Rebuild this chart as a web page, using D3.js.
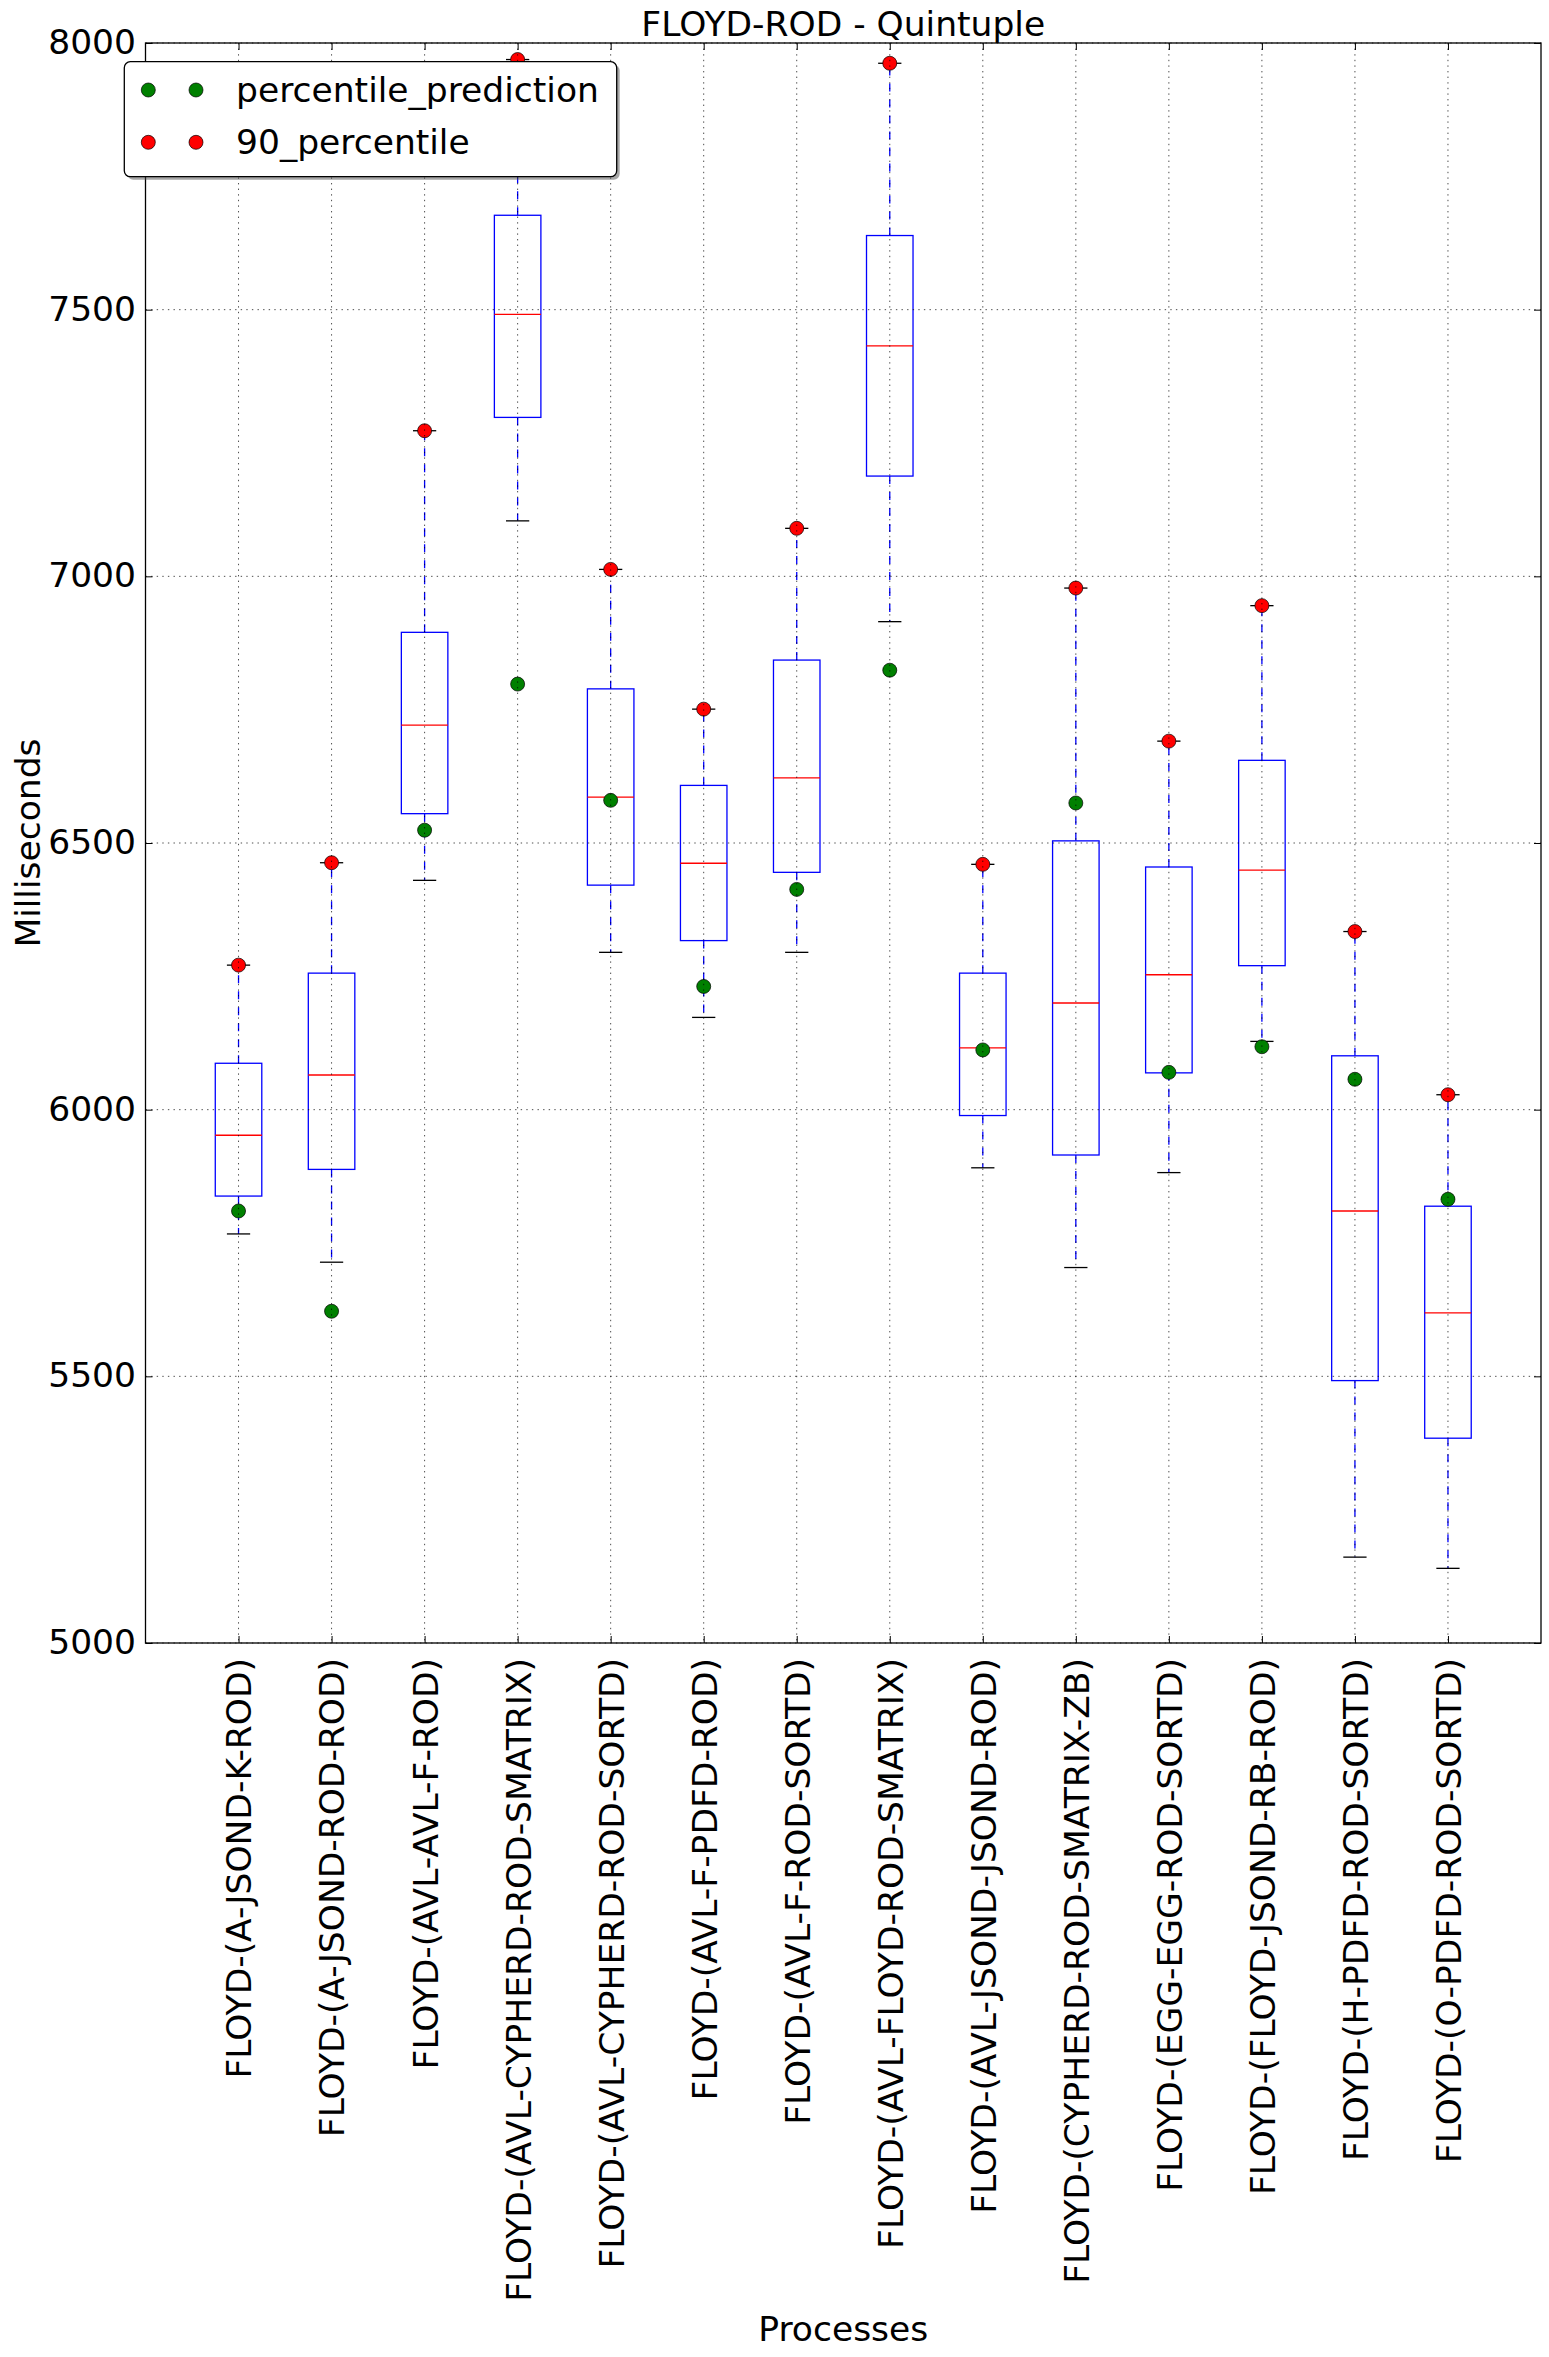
<!DOCTYPE html>
<html>
<head>
<meta charset="utf-8">
<script src="https://cdn.jsdelivr.net/npm/d3@7"></script>
<style>
  html, body { margin: 0; padding: 0; background: #ffffff; }
  svg { display: block; }
  text { font-family: "DejaVu Sans", sans-serif; }
</style>
</head>
<body>
<svg id="chart" width="1549" height="2357"></svg>
<script>
// ---------------- DATA ----------------
const categories = [
  "FLOYD-(A-JSOND-K-ROD)",
  "FLOYD-(A-JSOND-ROD-ROD)",
  "FLOYD-(AVL-AVL-F-ROD)",
  "FLOYD-(AVL-CYPHERD-ROD-SMATRIX)",
  "FLOYD-(AVL-CYPHERD-ROD-SORTD)",
  "FLOYD-(AVL-F-PDFD-ROD)",
  "FLOYD-(AVL-F-ROD-SORTD)",
  "FLOYD-(AVL-FLOYD-ROD-SMATRIX)",
  "FLOYD-(AVL-JSOND-JSOND-ROD)",
  "FLOYD-(CYPHERD-ROD-SMATRIX-ZB)",
  "FLOYD-(EGG-EGG-ROD-SORTD)",
  "FLOYD-(FLOYD-JSOND-RB-ROD)",
  "FLOYD-(H-PDFD-ROD-SORTD)",
  "FLOYD-(O-PDFD-ROD-SORTD)"
];
const whiskerLow  = [5767, 5714, 6430, 7104, 6295, 6173, 6295, 6915, 5891, 5704, 5882, 6128, 5161, 5140];
const q1          = [5838, 5888, 6555, 7298, 6421, 6317, 6445, 7188, 5989, 5915, 6069, 6270, 5492, 5384];
const median      = [5952, 6065, 6721, 7491, 6586, 6462, 6622, 7432, 6116, 6200, 6253, 6449, 5810, 5619];
const q3          = [6087, 6256, 6895, 7677, 6789, 6608, 6843, 7639, 6256, 6504, 6455, 6655, 6101, 5819];
const whiskerHigh = [6271, 6463, 7273, 7969, 7013, 6751, 7090, 7962, 6460, 6978, 6691, 6945, 6334, 6028];
const percentilePrediction = [5810, 5622, 6524, 6798, 6580, 6231, 6413, 6824, 6112, 6575, 6070, 6118, 6057, 5832];
const percentile90         = [6271, 6463, 7273, 7969, 7013, 6751, 7090, 7962, 6460, 6978, 6691, 6945, 6334, 6028];
const yTicks = [5000, 5500, 6000, 6500, 7000, 7500, 8000];
const legendLabels = ["percentile_prediction", "90_percentile"];
const legendColors = ["#008000", "#ff0000"];
const titleText = "FLOYD-ROD - Quintuple";
const xLabel = "Processes";
const yLabel = "Milliseconds";

// ---------------- LAYOUT ----------------
const W = 1549, H = 2357;
const pLeft = 145.5, pRight = 1541, pTop = 43, pBottom = 1643;
const FS = 34.5;
const positions = categories.map((d, i) => i + 1);

const svg = d3.select("#chart");
svg.append("rect").attr("width", W).attr("height", H).attr("fill", "#ffffff");

const x = d3.scaleLinear().domain([0, categories.length + 1]).range([pLeft, pRight]);
const y = d3.scaleLinear().domain([5000, 8000]).range([pBottom, pTop]);

const boxHalf = 0.25;   // box width 0.5 units
const capHalf = 0.125;  // cap width 0.25 units
const lw = 1.3;

const rows = categories.map((c, i) => ({
  pos: positions[i], lo: whiskerLow[i], q1: q1[i], med: median[i], q3: q3[i], hi: whiskerHigh[i],
  pred: percentilePrediction[i], p90: percentile90[i]
}));

const plot = svg.append("g");

// whiskers
plot.selectAll(".wlo").data(rows).join("line")
  .attr("x1", d => x(d.pos)).attr("x2", d => x(d.pos))
  .attr("y1", d => y(d.q1)).attr("y2", d => y(d.lo))
  .attr("stroke", "#0000ff").attr("stroke-width", lw).attr("stroke-dasharray", "8,8");
plot.selectAll(".whi").data(rows).join("line")
  .attr("x1", d => x(d.pos)).attr("x2", d => x(d.pos))
  .attr("y1", d => y(d.q3)).attr("y2", d => y(d.hi))
  .attr("stroke", "#0000ff").attr("stroke-width", lw).attr("stroke-dasharray", "8,8");
// caps
plot.selectAll(".caplo").data(rows).join("line")
  .attr("x1", d => x(d.pos - capHalf)).attr("x2", d => x(d.pos + capHalf))
  .attr("y1", d => y(d.lo)).attr("y2", d => y(d.lo))
  .attr("stroke", "#000000").attr("stroke-width", lw);
plot.selectAll(".caphi").data(rows).join("line")
  .attr("x1", d => x(d.pos - capHalf)).attr("x2", d => x(d.pos + capHalf))
  .attr("y1", d => y(d.hi)).attr("y2", d => y(d.hi))
  .attr("stroke", "#000000").attr("stroke-width", lw);
// boxes
plot.selectAll(".box").data(rows).join("rect")
  .attr("x", d => x(d.pos - boxHalf)).attr("width", d => x(d.pos + boxHalf) - x(d.pos - boxHalf))
  .attr("y", d => y(d.q3)).attr("height", d => y(d.q1) - y(d.q3))
  .attr("fill", "none").attr("stroke", "#0000ff").attr("stroke-width", lw);
// medians
plot.selectAll(".med").data(rows).join("line")
  .attr("x1", d => x(d.pos - boxHalf)).attr("x2", d => x(d.pos + boxHalf))
  .attr("y1", d => y(d.med)).attr("y2", d => y(d.med))
  .attr("stroke", "#ff0000").attr("stroke-width", lw);

// points
const R = 7;
plot.selectAll(".pred").data(rows).join("circle")
  .attr("cx", d => x(d.pos)).attr("cy", d => y(d.pred)).attr("r", R)
  .attr("fill", legendColors[0]).attr("stroke", "#000").attr("stroke-width", 0.7);
plot.selectAll(".p90").data(rows).join("circle")
  .attr("cx", d => x(d.pos)).attr("cy", d => y(d.p90)).attr("r", R)
  .attr("fill", legendColors[1]).attr("stroke", "#000").attr("stroke-width", 0.7);

// grid (drawn above data, classic style)
const grid = svg.append("g");
grid.selectAll(".gx").data(positions).join("line")
  .attr("x1", d => x(d)).attr("x2", d => x(d)).attr("y1", pTop).attr("y2", pBottom)
  .attr("stroke", "#000").attr("stroke-width", 0.7).attr("stroke-dasharray", "1.4,4.2");
grid.selectAll(".gy").data(yTicks).join("line")
  .attr("x1", pLeft).attr("x2", pRight).attr("y1", d => y(d)).attr("y2", d => y(d))
  .attr("stroke", "#000").attr("stroke-width", 0.7).attr("stroke-dasharray", "1.4,4.2");

// axes
function styleAxis(g) {
  g.select(".domain").remove();
  g.selectAll(".tick line").attr("stroke", "#000").attr("stroke-width", 1);
  g.selectAll(".tick text").attr("fill", "#000").style("font-size", FS + "px").style("font-family", "DejaVu Sans");
}
const gl = svg.append("g").attr("transform", `translate(${pLeft},0)`)
  .call(d3.axisLeft(y).tickValues(yTicks).tickFormat(d3.format("d")).tickSizeInner(-7).tickSizeOuter(0).tickPadding(9.5));
styleAxis(gl);
gl.selectAll(".tick text").attr("dy", "0.30em");
const gr = svg.append("g").attr("transform", `translate(${pRight},0)`)
  .call(d3.axisRight(y).tickValues(yTicks).tickFormat("").tickSizeInner(-7).tickSizeOuter(0));
styleAxis(gr);
const gt = svg.append("g").attr("transform", `translate(0,${pTop})`)
  .call(d3.axisTop(x).tickValues(positions).tickFormat("").tickSizeInner(-7).tickSizeOuter(0));
styleAxis(gt);
const gb = svg.append("g").attr("transform", `translate(0,${pBottom})`)
  .call(d3.axisBottom(x).tickValues(positions).tickFormat(d => categories[d - 1]).tickSizeInner(-7).tickSizeOuter(0));
styleAxis(gb);
gb.selectAll(".tick text")
  .attr("transform", "rotate(-90)")
  .attr("x", -15).attr("y", 0).attr("dy", "0.36em")
  .style("text-anchor", "end");

// frame
svg.append("rect").attr("x", pLeft).attr("y", pTop).attr("width", pRight - pLeft).attr("height", pBottom - pTop)
  .attr("fill", "none").attr("stroke", "#000").attr("stroke-width", 1.3);

// title & labels
svg.append("text").attr("x", (pLeft + pRight) / 2).attr("y", 36).attr("text-anchor", "middle")
  .style("font-size", FS + "px").text(titleText);
svg.append("text").attr("x", (pLeft + pRight) / 2).attr("y", 2341).attr("text-anchor", "middle")
  .style("font-size", FS + "px").text(xLabel);
svg.append("text").attr("transform", `translate(40,${(pTop + pBottom) / 2}) rotate(-90)`).attr("text-anchor", "middle")
  .style("font-size", FS + "px").text(yLabel);

// legend
const lg = svg.append("g");
const lx = 124.3, ly = 61.7, lwid = 492.4, lh = 115;
lg.append("rect").attr("x", lx + 3).attr("y", ly + 3).attr("width", lwid).attr("height", lh).attr("rx", 6)
  .attr("fill", "#4d4d4d").attr("opacity", 0.5);
lg.append("rect").attr("x", lx).attr("y", ly).attr("width", lwid).attr("height", lh).attr("rx", 6)
  .attr("fill", "#fff").attr("stroke", "#000").attr("stroke-width", 1.3);
const rowY = [90, 142.3];
legendLabels.forEach((lab, i) => {
  [148.3, 196].forEach(mx => {
    lg.append("circle").attr("cx", mx).attr("cy", rowY[i]).attr("r", R)
      .attr("fill", legendColors[i]).attr("stroke", "#000").attr("stroke-width", 0.7);
  });
  lg.append("text").attr("x", 236).attr("y", rowY[i] + 11.5).style("font-size", FS + "px").text(lab);
});
</script>
</body>
</html>
